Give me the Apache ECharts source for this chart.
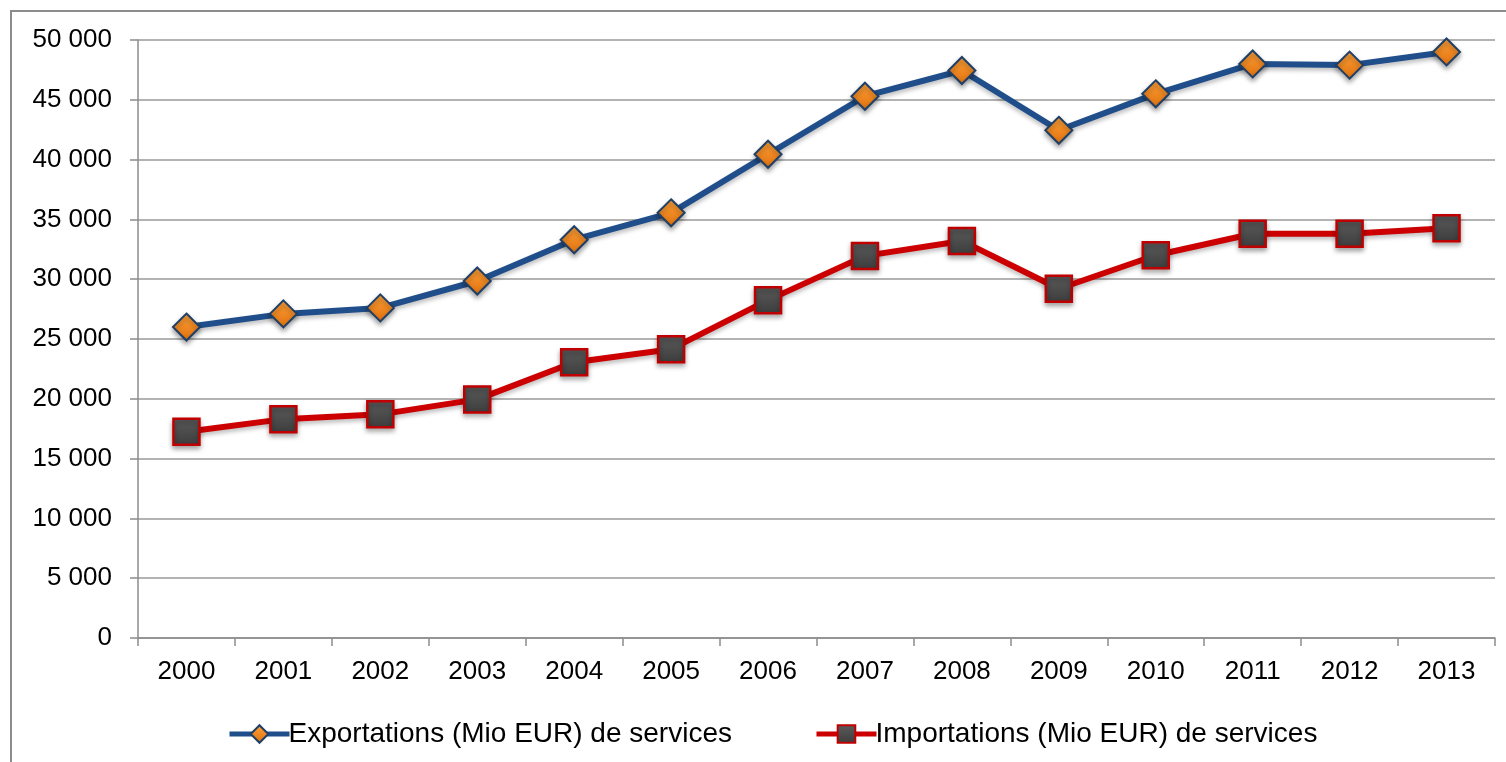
<!DOCTYPE html>
<html><head><meta charset="utf-8">
<script src="https://cdn.jsdelivr.net/npm/echarts@6/dist/echarts.min.js"></script>
<style>html,body{margin:0;padding:0;background:#fff}#c{width:1506px;height:762px}</style>
</head><body><div id="c"></div>
<script>
var years = ['2000','2001','2002','2003','2004','2005','2006','2007','2008','2009','2010','2011','2012','2013'];
var exportsData = [26000, 27100, 27600, 29850, 33300, 35550, 40450, 45300, 47450, 42450, 45500, 48000, 47900, 49000];
var importsData = [17250, 18300, 18700, 19950, 23050, 24150, 28250, 31950, 33200, 29200, 32000, 33800, 33800, 34250];
var exportName = 'Exportations (Mio EUR) de services';
var importName = 'Importations (Mio EUR) de services';
var yTicks = {min: 0, max: 50000, interval: 5000};

var chart = echarts.init(document.getElementById('c'), null, {renderer: 'canvas'});
var font = '"Liberation Sans", Arial, sans-serif';
chart.setOption({
  animation: false,
  backgroundColor: '#fff',
  graphic: [{type: 'rect', shape: {x: 11, y: 11, width: 1600, height: 900},
    style: {fill: 'none', stroke: '#8c8c8c', lineWidth: 2}, silent: true}],
  grid: {left: 138, right: 11, top: 40, bottom: 124, containLabel: false},
  legend: {
    top: 715, left: 222, itemGap: 82, itemWidth: 60, itemHeight: 22,
    lineStyle: {width: 5},
    textStyle: {fontFamily: font, fontSize: 28, color: '#000', padding: [0,0,0,-6]},
    data: [exportName, importName]
  },
  xAxis: {
    type: 'category', data: years, boundaryGap: true,
    axisLine: {lineStyle: {color: '#8c8c8c', width: 1.5}},
    axisTick: {show: true, length: 8, lineStyle: {color: '#8c8c8c', width: 1.5}},
    axisLabel: {fontFamily: font, fontSize: 26, color: '#000', margin: 21},
    splitLine: {show: false}
  },
  yAxis: {
    type: 'value', min: yTicks.min, max: yTicks.max, interval: yTicks.interval,
    axisLine: {show: true, lineStyle: {color: '#8c8c8c', width: 1.5}},
    axisTick: {show: true, length: 8, lineStyle: {color: '#8c8c8c', width: 1.5}},
    axisLabel: {fontFamily: font, fontSize: 26, color: '#000', margin: 26,
      formatter: function(v){ return String(v).replace(/\B(?=(\d{3})+(?!\d))/g, ' '); }},
    splitLine: {show: true, lineStyle: {color: '#9a9a9a', width: 1.5}}
  },
  series: [{
    name: exportName, type: 'line', data: exportsData,
    symbol: 'diamond', symbolSize: 27,
    lineStyle: {color: '#1f4e8a', width: 6, shadowColor: 'rgba(0,0,0,0.25)', shadowBlur: 4, shadowOffsetY: 3},
    itemStyle: {
      color: new echarts.graphic.LinearGradient(0,0,0,1,[{offset:0,color:'#ffa23a'},{offset:1,color:'#e0700c'}]),
      borderColor: '#1f3f66', borderWidth: 2,
      shadowColor: 'rgba(0,0,0,0.35)', shadowBlur: 5, shadowOffsetY: 3
    },
    emphasis: {disabled: true}, z: 3
  }, {
    name: importName, type: 'line', data: importsData,
    symbol: 'rect', symbolSize: 26,
    lineStyle: {color: '#cc0000', width: 6, shadowColor: 'rgba(0,0,0,0.25)', shadowBlur: 4, shadowOffsetY: 3},
    itemStyle: {
      color: new echarts.graphic.LinearGradient(0,0,0,1,[{offset:0,color:'#5c5c5c'},{offset:1,color:'#3c3c3c'}]),
      borderColor: '#c00000', borderWidth: 2.5,
      shadowColor: 'rgba(0,0,0,0.35)', shadowBlur: 5, shadowOffsetY: 3
    },
    emphasis: {disabled: true}, z: 2
  }]
});
</script></body></html>
